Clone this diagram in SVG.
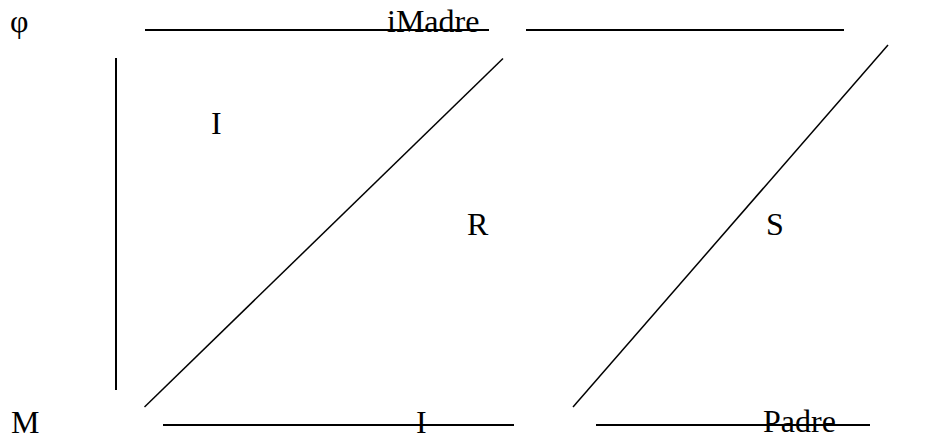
<svg xmlns="http://www.w3.org/2000/svg" width="930" height="439" viewBox="0 0 930 439">
<style>
.t{font-family:"Liberation Serif","Times New Roman",serif;font-size:32px;fill:#000}
.l{stroke:#000;stroke-width:2;fill:none}
.d{stroke:#000;stroke-width:1.5;fill:none}
</style>
<rect width="930" height="439" fill="#fff"/>
<g id="connectors">
<line class="l" x1="145" y1="30" x2="489" y2="30"/>
<line class="l" x1="526" y1="30" x2="844" y2="30"/>
<line class="l" x1="116" y1="58" x2="116" y2="390"/>
<line class="d" x1="144.5" y1="407" x2="503" y2="58.5"/>
<line class="d" x1="573" y1="407" x2="888" y2="45"/>
<line class="l" x1="163" y1="425" x2="514" y2="425"/>
<line class="l" x1="596" y1="425" x2="870" y2="425"/>
</g>
<g id="phi"><text class="t" x="10" y="32">φ</text></g>
<g id="iMadre"><text class="t" x="387" y="32">iMadre</text></g>
<g id="I-top"><text class="t" x="211" y="134">I</text></g>
<g id="R"><text class="t" x="467" y="235">R</text></g>
<g id="S"><text class="t" x="766" y="235">S</text></g>
<g id="M"><text class="t" x="11" y="433">M</text></g>
<g id="I-bottom"><text class="t" x="416" y="433">I</text></g>
<g id="Padre"><text class="t" x="763" y="432">Padre</text></g>
</svg>
